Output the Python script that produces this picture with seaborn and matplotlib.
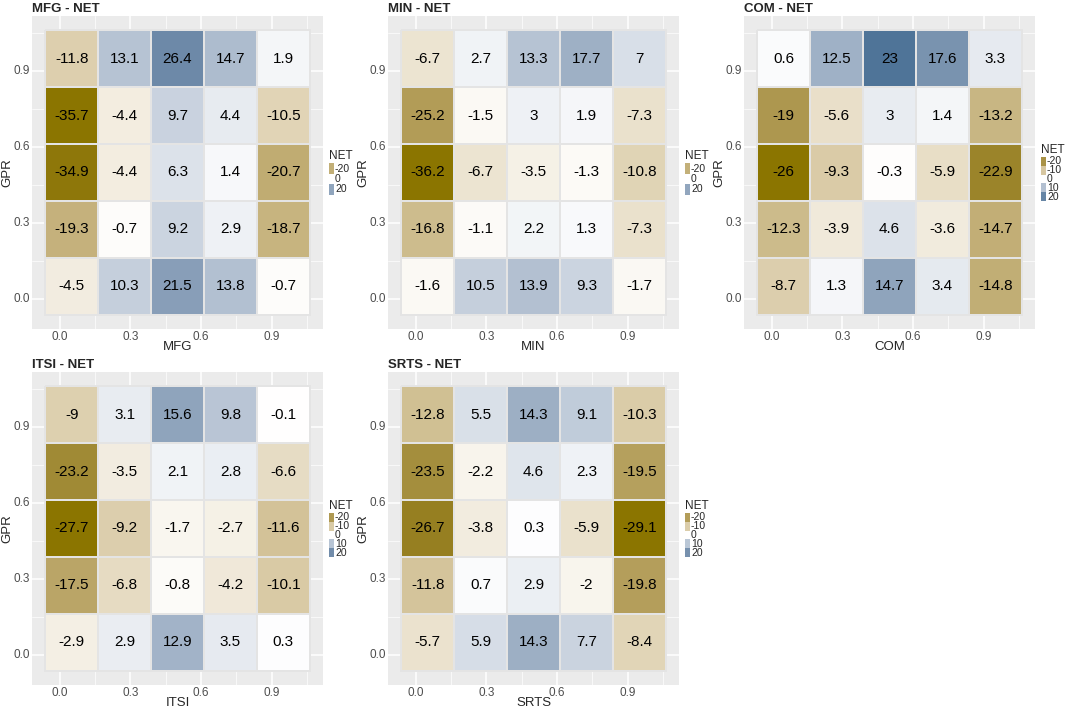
# -*- coding: utf-8 -*-
"""
    GPR vs sector quantile heatmaps (NET connectedness)
"""
import numpy as np
import pandas as pd
import matplotlib
matplotlib.use('Agg')
import matplotlib.pyplot as plt
import seaborn as sns
from matplotlib.colors import ListedColormap, Normalize, to_rgb
from matplotlib.patches import Rectangle

# quantile levels (tile centres) and axis breaks
levels = [0.05, 0.275, 0.5, 0.725, 0.95]
tile_width = 0.225
ticks = [0.0, 0.3, 0.6, 0.9]

sectors = ['MFG', 'MIN', 'COM', 'ITSI', 'SRTS']

# rows: GPR level from top (0.95) to bottom (0.05), columns: sector level 0.05 .. 0.95
mfg = [[-11.8, 13.1, 26.4, 14.7, 1.9],
       [-35.7, -4.4, 9.7, 4.4, -10.5],
       [-34.9, -4.4, 6.3, 1.4, -20.7],
       [-19.3, -0.7, 9.2, 2.9, -18.7],
       [-4.5, 10.3, 21.5, 13.8, -0.7]]
mins = [[-6.7, 2.7, 13.3, 17.7, 7],
        [-25.2, -1.5, 3, 1.9, -7.3],
        [-36.2, -6.7, -3.5, -1.3, -10.8],
        [-16.8, -1.1, 2.2, 1.3, -7.3],
        [-1.6, 10.5, 13.9, 9.3, -1.7]]
com = [[0.6, 12.5, 23, 17.6, 3.3],
       [-19, -5.6, 3, 1.4, -13.2],
       [-26, -9.3, -0.3, -5.9, -22.9],
       [-12.3, -3.9, 4.6, -3.6, -14.7],
       [-8.7, 1.3, 14.7, 3.4, -14.8]]
itsi = [[-9, 3.1, 15.6, 9.8, -0.1],
        [-23.2, -3.5, 2.1, 2.8, -6.6],
        [-27.7, -9.2, -1.7, -2.7, -11.6],
        [-17.5, -6.8, -0.8, -4.2, -10.1],
        [-2.9, 2.9, 12.9, 3.5, 0.3]]
srts = [[-12.8, 5.5, 14.3, 9.1, -10.3],
        [-23.5, -2.2, 4.6, 2.3, -19.5],
        [-26.7, -3.8, 0.3, -5.9, -29.1],
        [-11.8, 0.7, 2.9, -2, -19.8],
        [-5.7, 5.9, 14.3, 7.7, -8.4]]

legend_breaks = {'MFG': [-20, 0, 20],
                 'MIN': [-20, 0, 20],
                 'COM': [-20, -10, 0, 10, 20],
                 'ITSI': [-20, -10, 0, 10, 20],
                 'SRTS': [-20, -10, 0, 10, 20]}

LOW = '#8B7500'
MID = '#FFFFFF'
HIGH = '#36648B'


def _to_lab(c):
    rgb = np.array(to_rgb(c))
    lin = np.where(rgb <= 0.04045, rgb / 12.92, ((rgb + 0.055) / 1.055) ** 2.4)
    m = np.array([[0.4124, 0.3576, 0.1805],
                  [0.2126, 0.7152, 0.0722],
                  [0.0193, 0.1192, 0.9505]])
    xyz = m @ lin / np.array([0.95047, 1.0, 1.08883])
    d = 6 / 29
    f = np.where(xyz > d ** 3, np.cbrt(xyz), xyz / (3 * d ** 2) + 4 / 29)
    return np.array([116 * f[1] - 16, 500 * (f[0] - f[1]), 200 * (f[1] - f[2])])


def _from_lab(lab):
    L, a, b = lab
    fy = (L + 16) / 116
    fx = fy + a / 500
    fz = fy - b / 200
    d = 6 / 29
    f = np.array([fx, fy, fz])
    xyz = np.where(f > d, f ** 3, 3 * d ** 2 * (f - 4 / 29)) * np.array([0.95047, 1.0, 1.08883])
    m = np.array([[3.2406, -1.5372, -0.4986],
                  [-0.9689, 1.8758, 0.0415],
                  [0.0557, -0.2040, 1.0570]])
    lin = m @ xyz
    rgb = np.where(lin <= 0.0031308, 12.92 * lin, 1.055 * np.clip(lin, 0, None) ** (1 / 2.4) - 0.055)
    return np.clip(rgb, 0, 1)


def gradient2_cmap(n=511):
    lo, mi, hi = _to_lab(LOW), _to_lab(MID), _to_lab(HIGH)
    colors = []
    for t in np.linspace(-1, 1, n):
        if t < 0:
            lab = mi + (lo - mi) * (-t)
        else:
            lab = mi + (hi - mi) * t
        colors.append(_from_lab(lab))
    return ListedColormap(colors)


def xpos(v):
    return (v - (levels[0] - tile_width / 2)) / tile_width


def ypos(v):
    return (levels[-1] + tile_width / 2 - v) / tile_width


sns.set_style('white')
plt.rcParams['font.family'] = ['Liberation Sans', 'DejaVu Sans']

cmap = gradient2_cmap()
fig = plt.figure(figsize=(10.65, 7.09), dpi=100)
W, H = 1065, 709

panel_w, panel_h = 291, 313
panel_pos = [(32, 16), (388, 16), (744, 16), (32, 372), (388, 372)]
tables = [mfg, mins, com, itsi, srts]


def draw_legend(px, py, breaks, lim):
    # small stacked-key legend right of the panel (pixel units)
    n = len(breaks)
    key_h = min(10.4, 44.0 / n)
    key_w = 5
    title_h = 13
    kx = px + panel_w + 6
    top = py + panel_h / 2 - (title_h + n * key_h) / 2
    fig.text(kx / W, 1 - top / H, 'NET', ha='left', va='top', fontsize=8.5)
    norm = Normalize(-lim, lim)
    for i, b in enumerate(breaks):
        y0 = top + title_h + i * key_h
        fig.add_artist(Rectangle((kx / W, 1 - (y0 + key_h) / H), key_w / W, key_h / H,
                                 transform=fig.transFigure, facecolor=cmap(norm(b)),
                                 edgecolor='none'))
        fig.text((kx + key_w + 1) / W, 1 - (y0 + key_h / 2) / H, str(b),
                 ha='left', va='center', fontsize=7.5)


for name, table, (px, py) in zip(sectors, tables, panel_pos):
    ax = fig.add_axes([px / W, 1 - (py + panel_h) / H, panel_w / W, panel_h / H])
    values = np.array(table, dtype=float)
    frame = pd.DataFrame(values, index=levels[::-1], columns=levels)
    labels = np.array([['{:g}'.format(v) for v in row] for row in values])
    lim = np.abs(values).max()

    sns.heatmap(frame, ax=ax, cmap=cmap, vmin=-lim, vmax=lim,
                annot=labels, fmt='', cbar=False,
                annot_kws={'size': 11, 'color': 'black'},
                linewidths=0.25, linecolor='#e4e4e4')

    ax.set_xlim(-0.25, 5.25)
    ax.set_ylim(5.25, -0.25)
    ax.set_facecolor('#EBEBEB')
    ax.set_xticks([xpos(t) for t in ticks], ['{:.1f}'.format(t) for t in ticks], rotation=0)
    ax.set_yticks([ypos(t) for t in ticks], ['{:.1f}'.format(t) for t in ticks], rotation=0)
    minor = [0.15, 0.45, 0.75, 1.05]
    ax.set_xticks([xpos(t) for t in minor], minor=True)
    ax.set_yticks([ypos(t) for t in minor], minor=True)
    ax.tick_params(which='major', length=1.8, width=0.6, color='#333333',
                   labelsize=8.5, labelcolor='#4D4D4D', pad=0)
    ax.tick_params(which='minor', length=0)
    ax.grid(which='major', color='white', lw=1.1)
    ax.grid(which='minor', color='white', lw=0.5)
    ax.set_axisbelow(True)

    ax.set_xlabel(name, fontsize=9.5)
    ax.set_ylabel('GPR', fontsize=9.5)
    ax.xaxis.set_label_coords(0.5, -12 / panel_h)
    ax.yaxis.set_label_coords(-19 / panel_w, 0.5)
    ax.set_title('{} - NET'.format(name), loc='left', fontweight='bold', fontsize=9.5, pad=3)

    draw_legend(px, py, legend_breaks[name], lim)

fig.savefig('out.png', dpi=100)
